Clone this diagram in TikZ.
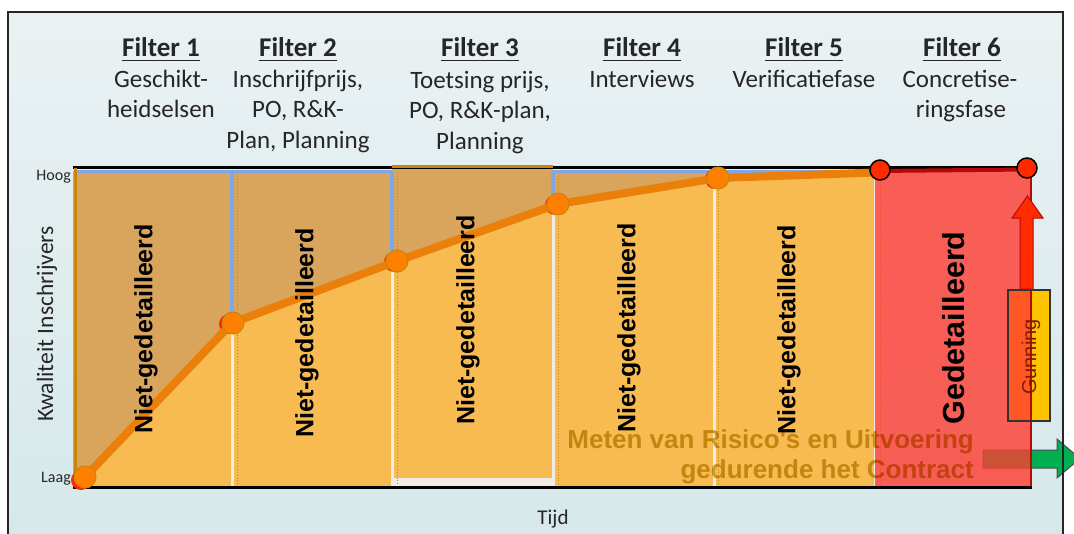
\documentclass[tikz,border=0pt]{standalone}
\usepackage{fontspec}
\setmainfont{Carlito}
\newfontfamily\arialf{Liberation Sans}
\definecolor{bgtop}{RGB}{234,241,243}
\definecolor{bgbot}{RGB}{213,232,234}
\definecolor{tanfill}{RGB}{217,165,92}
\definecolor{lightor}{RGB}{247,187,82}
\definecolor{curvecol}{RGB}{234,128,10}
\definecolor{dotor}{RGB}{255,128,0}
\definecolor{goldline}{RGB}{200,134,10}
\definecolor{bluel}{RGB}{125,167,232}
\definecolor{redreg}{RGB}{255,59,48}
\definecolor{darkred}{RGB}{180,10,10}
\definecolor{arrred}{RGB}{255,42,0}
\definecolor{gunyel}{RGB}{255,196,0}
\definecolor{arrgreen}{RGB}{0,176,80}
\definecolor{txt}{RGB}{38,38,38}
\definecolor{metencol}{RGB}{203,180,50}
\definecolor{gapcol}{RGB}{240,236,228}
\definecolor{guntext}{RGB}{125,30,0}
\begin{document}
\begin{tikzpicture}[x=1pt,y=-1pt,
  hdrtitle/.style={anchor=base,inner sep=0pt,text=txt,font=\bfseries\fontsize{27}{31}\selectfont},
  hdrsub/.style={anchor=base,inner sep=0pt,text=txt,font=\fontsize{25}{31}\selectfont},
  colnote/.style={rotate=90,inner sep=0pt,text=black,font=\arialf\bfseries\fontsize{25}{30}\selectfont},
  axislab/.style={inner sep=0pt,text=txt},
  orangedot/.style={circle,minimum size=22pt,inner sep=0pt,fill=dotor,draw=goldline,line width=1pt},
  reddot/.style={circle,minimum size=20pt,inner sep=0pt,fill=arrred,draw=black,line width=1.5pt},
  whitesep/.style={draw=gapcol,line width=3pt},
  bluesep/.style={draw=bluel,line width=3.5pt},
  dotsep/.style={draw=goldline,line width=0.9pt,dotted},
  metentext/.style={anchor=base east,inner sep=0pt,text=metencol,font=\arialf\bfseries\fontsize{26}{30}\selectfont}
]
\useasboundingbox (0,0) rectangle (1074,533);
\clip (0,0) rectangle (1074,533);
\fill[white] (0,0) rectangle (1074,533);
\shade[top color=bgtop,bottom color=bgbot] (8,12) rectangle (1063,545);

% ---------- headers ----------
\node[hdrtitle] (f1) at (161,56) {Filter 1};
\node[hdrtitle] (f2) at (298,56) {Filter 2};
\node[hdrtitle] (f3) at (480,56) {Filter 3};
\node[hdrtitle] (f4) at (642,56) {Filter 4};
\node[hdrtitle] (f5) at (804,56) {Filter 5};
\node[hdrtitle] (f6) at (962,56) {Filter 6};
\foreach \n in {f1,f2,f3,f4,f5,f6}{
  \draw[txt,line width=1.6pt] ([yshift=-4pt]\n.south west) -- ([yshift=-4pt]\n.south east);
}
\node[hdrsub] (s1a) at (161,87) {Geschikt-};
\node[hdrsub] (s1b) at (161,117) {heidselsen};
\node[hdrsub] (s2a) at (298,87) {Inschrijfprijs,};
\node[hdrsub] (s2b) at (298,117) {PO, R\&K-};
\node[hdrsub] (s2c) at (298,148) {Plan, Planning};
\node[hdrsub] (s3a) at (480,88) {Toetsing prijs,};
\node[hdrsub] (s3b) at (480,118) {PO, R\&K-plan,};
\node[hdrsub] (s3c) at (480,149) {Planning};
\node[hdrsub] (s4a) at (642,87) {Interviews};
\node[hdrsub] (s5a) at (804,87) {Verificatiefase};
\node[hdrsub] (s6a) at (960,87) {Concretise-};
\node[hdrsub] (s6b) at (961,117) {ringsfase};

% ---------- chart fills ----------
\fill[tanfill] (73,171) rectangle (875,487);
\fill[tanfill] (392,165) rectangle (553,478);
\fill[lightor] (73,487) -- (73,477) -- (85,477) -- (232,323) -- (397,261) -- (558,204) -- (718,178) -- (875,173) -- (875,487) -- cycle;
\fill[gapcol] (393,478) rectangle (552,486);

% blue top line
\draw[bluesep] (75,171.5) -- (392,171.5);
\draw[bluesep] (553,171.5) -- (875,171.5);
% separators
\draw[bluesep] (232,172) -- (232,323);
\draw[bluesep] (392,172) -- (392,261);
\draw[bluesep] (553,172) -- (553,204);
\draw[whitesep] (232,323) -- (232,487);
\draw[whitesep] (392,261) -- (392,487);
\draw[whitesep] (553,204) -- (553,487);
\draw[whitesep] (714,178) -- (714,487);
\draw[whitesep] (875,172) -- (875,487);
\foreach \xx in {237,397,558,718,880}{
  \draw[dotsep] (\xx,173) -- (\xx,486);
}

% Gunning box (under red region)
\fill[gunyel] (1008,290) rectangle (1050,421);
% green arrow (under red region)
\draw[fill=arrgreen,draw=black!70,line width=1pt] (983,450) -- (1057,450) -- (1057,439) -- (1080,458.5) -- (1057,478) -- (1057,468) -- (983,468) -- cycle;

% red region
\fill[redreg,fill opacity=0.8] (875,170) rectangle (1032,487);
\draw[darkred,line width=1.5pt] (1031,168) -- (1031,487);

% Meten text
\begin{scope}[blend mode=multiply]
\node[metentext] (m1) at (974,448) {Meten van Risico's en Uitvoering};
\node[metentext] (m2) at (974,478) {gedurende het Contract};
\end{scope}

% Gunning box outline and text
\draw[black!80,line width=1.2pt] (1008,290) rectangle (1050,421);
\node[rotate=90,inner sep=0pt,text=guntext,font=\arialf\fontsize{20}{24}\selectfont] (gun) at (1031,357) {Gunning};

% red arrow
\draw[fill=arrred,draw=darkred,line width=1pt] (1020,289) -- (1020,218) -- (1012,218) -- (1027.5,196) -- (1043,218) -- (1033,218) -- (1033,289) -- cycle;

% axes lines
\draw[black,line width=3pt] (73,167) -- (1028,167);
\draw[goldline,line width=3pt] (392,166) -- (553,166);
\draw[black,line width=3pt] (73,487) -- (1032,487);
\draw[goldline,line width=3pt] (75,168) -- (75,487);
\draw[darkred,line width=4pt] (876,171) -- (1028,169.5);

% curve and dots
\coordinate (c6) at (876,172.5);
\node[circle,fill=arrred,minimum size=20pt,inner sep=0pt] (r1) at (81,480) {};
\node[circle,fill=arrred,minimum size=20pt,inner sep=0pt] (r2) at (229,324) {};
\node[circle,fill=arrred,minimum size=20pt,inner sep=0pt] (r3) at (394,262) {};
\node[circle,fill=arrred,minimum size=20pt,inner sep=0pt] (r4) at (555,205) {};
\node[circle,fill=arrred,minimum size=20pt,inner sep=0pt] (r5) at (715,179) {};
\draw[curvecol,line width=8pt,line join=round] (85,477) -- (232,323) -- (397,261) -- (558,204) -- (718,178) -- (c6);
\node[orangedot] (p1) at (85,477) {};
\node[orangedot] (p2) at (233,323) {};
\node[orangedot] (p3) at (397,261) {};
\node[orangedot] (p4) at (558,204) {};
\node[orangedot] (p5) at (718,178) {};
\node[reddot] (p6) at (880,170) {};
\node[reddot] (p7) at (1027,168) {};

% column texts
\node[colnote] (n1) at (146,329) {Niet-gedetailleerd};
\node[colnote] (n2) at (307,333) {Niet-gedetailleerd};
\node[colnote] (n3) at (468,320) {Niet-gedetailleerd};
\node[colnote] (n4) at (629,328) {Niet-gedetailleerd};
\node[colnote] (n5) at (789,330) {Niet-gedetailleerd};
\node[rotate=90,inner sep=0pt,text=black,font=\arialf\bfseries\fontsize{30.5}{34}\selectfont] (g6) at (954,328) {Gedetailleerd};

% axis labels
\node[axislab,anchor=east,font=\fontsize{16}{18}\selectfont] (hoog) at (71,177) {Hoog};
\node[axislab,anchor=east,font=\fontsize{16}{18}\selectfont] (laag) at (71,479) {Laag};
\node[axislab,rotate=90,font=\fontsize{23.5}{26}\selectfont] (kw) at (47,324) {Kwaliteit Inschrijvers};
\node[axislab,font=\fontsize{21}{24}\selectfont] (tijd) at (553,519) {Tijd};

% frame
\draw[black!85,line width=2pt] (8,12) rectangle (1063,545);
\end{tikzpicture}
\end{document}
